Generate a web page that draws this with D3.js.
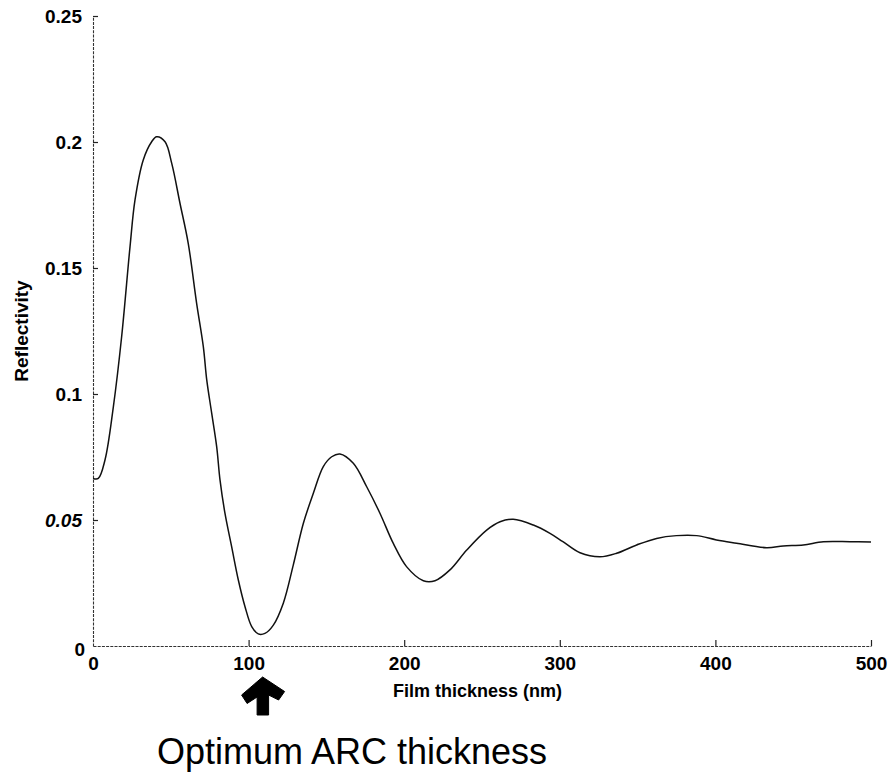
<!DOCTYPE html>
<html>
<head>
<meta charset="utf-8">
<script src="https://cdn.jsdelivr.net/npm/d3@7"></script>
<style>
  html, body { margin: 0; padding: 0; background: #fff; }
  svg { display: block; }
  .tick text { font-family: "Liberation Sans", Arial, Helvetica, sans-serif; font-weight: bold; font-size: 19px; fill: #000; }
</style>
</head>
<body>
<div id="chart"></div>
<script>
// Film thickness (nm) sampled along the curve
const thickness = [0, 3.4, 7.7, 13.1, 18.4, 23.8, 27, 32.3, 37.7, 40.9, 46.3, 50.6, 55.9, 61.2, 66.6,
  70.9, 73.1, 76.3, 79.5, 81.6, 84.8, 89.1, 93.4, 97.7, 102, 106.2, 110.5, 115.9, 122.3, 128.7,
  135.2, 141.6, 148, 153.4, 158.7, 167.3, 175.9, 184.4, 193, 201.5, 212.3, 219.8, 229.4, 240.2,
  253, 261.6, 270.1, 283, 293.7, 302, 313, 325.8, 336.5, 349.4, 362.2, 375, 387.9, 400.7, 413.6,
  432.9, 443.6, 456.5, 469.4, 486.5, 500];
// Reflectivity at each thickness
const reflectivity = [0.0665, 0.0665, 0.0738, 0.095, 0.1227, 0.1585, 0.177, 0.1929, 0.2001, 0.2021,
  0.2001, 0.1915, 0.1757, 0.1598, 0.136, 0.1188, 0.1056, 0.0923, 0.079, 0.066, 0.0527, 0.0394,
  0.0262, 0.0156, 0.0077, 0.0048, 0.005, 0.0083, 0.017, 0.0321, 0.0487, 0.0606, 0.0712, 0.0751,
  0.0762, 0.0725, 0.0632, 0.0527, 0.0407, 0.0315, 0.0259, 0.0259, 0.0302, 0.0381, 0.046, 0.0493,
  0.0503, 0.048, 0.0447, 0.0414, 0.037, 0.0354, 0.0368, 0.0401, 0.0427, 0.0438, 0.0438, 0.0421,
  0.0408, 0.039, 0.0397, 0.0401, 0.0414, 0.0414, 0.0413];

const xTicks = [0, 100, 200, 300, 400, 500];
const yTicks = [0, 0.05, 0.1, 0.15, 0.2, 0.25];
const yTickLabels = ["0", "0.05", "0.1", "0.15", "0.2", "0.25"];
const xTitle = "Film thickness (nm)";
const yTitle = "Reflectivity";
const optimumThickness = 109;
const optimumLabel = "Optimum ARC thickness";

const W = 891, H = 777;
const margin = { left: 93, right: 20, top: 16, bottom: 131 };

const svg = d3.select("#chart").append("svg")
  .attr("width", W).attr("height", H);

const x = d3.scaleLinear().domain([0, 500]).range([margin.left, W - margin.right]);
const y = d3.scaleLinear().domain([0, 0.25]).range([H - margin.bottom, margin.top]);

// axes: thin dotted lines, ticks pointing inward
const xAxis = d3.axisBottom(x).tickValues(xTicks).tickFormat(d3.format("d"))
  .tickSizeInner(-6).tickSizeOuter(0).tickPadding(10);
const yAxis = d3.axisLeft(y).tickValues(yTicks)
  .tickFormat((d, i) => yTickLabels[i])
  .tickSizeInner(-5).tickSizeOuter(0).tickPadding(11);

const gx = svg.append("g").attr("transform", `translate(0,${y(0)})`).call(xAxis);
const gy = svg.append("g").attr("transform", `translate(${x(0)},0)`).call(yAxis);

[gx, gy].forEach(g => {
  g.select(".domain").attr("stroke", "#333").attr("stroke-width", 1.1)
    .attr("stroke-dasharray", "3,1.2");
  g.selectAll(".tick line").attr("stroke", "#222").attr("stroke-width", 1.2);
});
gx.selectAll(".tick text").attr("dy", "0.72em");
gy.selectAll(".tick text").attr("dy", "0.36em")
  .style("font-style", d => d === 0.05 ? "italic" : null);
// zero tick labels sit at the corner
gy.selectAll(".tick").filter(d => d === 0).select("text").attr("dy", "0.5em").attr("x", -8);
gy.selectAll(".tick").filter(d => d === 0).select("line").remove();
gx.selectAll(".tick").filter(d => d === 0).select("line").remove();

// axis titles
svg.append("text")
  .attr("x", 393).attr("y", y(0) + 51)
  .attr("font-family", "Liberation Sans, Arial, Helvetica, sans-serif")
  .attr("font-weight", "bold").attr("font-size", 18)
  .text(xTitle);

svg.append("text")
  .attr("transform", `translate(28,${(y(0.1) + y(0.15)) / 2}) rotate(-90)`)
  .attr("text-anchor", "middle")
  .attr("font-family", "Liberation Sans, Arial, Helvetica, sans-serif")
  .attr("font-weight", "bold").attr("font-size", 19)
  .text(yTitle);

// reflectivity curve
const pts = thickness.map((t, i) => [t, reflectivity[i]]);
const line = d3.line().x(d => x(d[0])).y(d => y(d[1])).curve(d3.curveCatmullRom.alpha(0.5));
svg.append("path").datum(pts)
  .attr("d", line)
  .attr("fill", "none")
  .attr("stroke", "#111")
  .attr("stroke-width", 1.5)
  .attr("stroke-linejoin", "round");

// bold arrow marking the optimum thickness
const ax = x(optimumThickness), ay = y(0) + 31;
const arrowShape = [[0, 0], [22, 14.5], [16, 23], [6, 18], [6, 38], [-5.5, 38], [-5.5, 20],
  [-15.5, 26.5], [-21, 18]];
svg.append("path")
  .attr("d", d3.line()(arrowShape.map(p => [ax + p[0], ay + p[1]])) + "Z")
  .attr("fill", "#000")
  .attr("stroke", "#000").attr("stroke-width", 1).attr("stroke-linejoin", "round");

svg.append("text")
  .attr("x", 157).attr("y", 764)
  .attr("font-family", "Liberation Sans, Arial, Helvetica, sans-serif")
  .attr("font-size", 36)
  .text(optimumLabel);
</script>
</body>
</html>
